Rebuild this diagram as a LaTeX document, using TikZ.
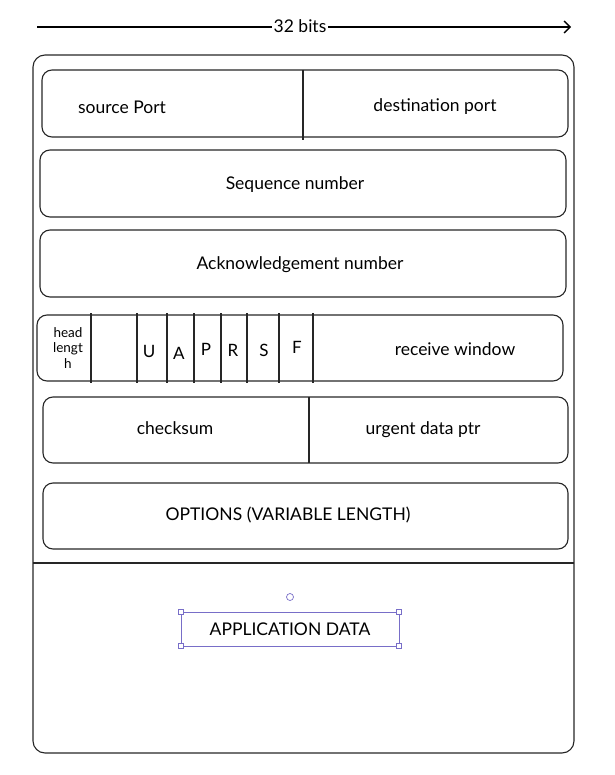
\documentclass[tikz,border=0pt]{standalone}
\usepackage{fontspec}
\setmainfont{Lato}
\usetikzlibrary{arrows.meta}
\tikzset{
  box/.style={draw=black!85,line width=1.1pt,rounded corners=10pt},
  sep/.style={draw=black!85,line width=1.4pt},
  lbl/.style={font=\fontsize{17.5}{20}\selectfont},
  flag/.style={font=\fontsize{17}{20}\selectfont},
  sel/.style={draw={rgb,255:red,120;green,110;blue,200},line width=0.7pt},
  hnd/.style={sel,fill=white,minimum size=5pt,inner sep=0pt}
}
\begin{document}
\begin{tikzpicture}[x=1pt,y=-1pt]
\useasboundingbox (0,0) rectangle (614,775);
% width arrow
\coordinate (al) at (37,27);
\coordinate (ar) at (571,27);
\draw[line width=1.3pt,-{Straight Barb[length=6pt]}] (al) -- (ar);
\node[fill=white,inner sep=2pt,lbl] (bits) at (300,26) {32 bits};
% outer
\draw[box,rounded corners=12pt] (33,55) rectangle (574,753);
\coordinate (ml) at (33,563);
\coordinate (mr) at (574,563);
\draw[sep] (ml) -- (mr);
% row 1
\draw[box] (42,70) rectangle (568,137);
\draw[sep] (303,70) -- (303,140);
\node[lbl] (sp) at (122,107) {source Port};
\node[lbl] (dp) at (435,107) {destination port};
% row 2
\draw[box] (40,150) rectangle (566,217);
\node[lbl] (seq) at (295,185) {Sequence number};
% row 3
\draw[box] (40,230) rectangle (566,297);
\node[lbl] (ack) at (300,265) {Acknowledgement number};
% row 4
\draw[box] (37,315) rectangle (563,381);
\foreach \x in {91,137,167,194,221,247,279,313}{\draw[sep] (\x,313) -- (\x,383);}
\node[align=center,font=\fontsize{13.5}{15.5}\selectfont] (hl) at (68,348) {head\\lengt\\h};
\node[flag] (u) at (149,351) {U};
\node[flag] (a) at (179,353) {A};
\node[flag] (p) at (206,349) {P};
\node[flag] (r) at (233,350) {R};
\node[flag] (s) at (264,350) {S};
\node[flag] (f) at (297,347) {F};
\node[lbl] (rw) at (455,349) {receive window};
% row 5
\draw[box] (43,397) rectangle (568,463);
\draw[sep] (309,397) -- (309,463);
\node[lbl] (cs) at (175,428) {checksum};
\node[lbl] (ud) at (423,430) {urgent data ptr};
% row 6
\draw[box] (43,483) rectangle (568,549);
\node[lbl] (op) at (288,515) {OPTIONS (VARIABLE LENGTH)};
% application data
\draw[sel] (181,612) rectangle (399,646);
\node[lbl] (app) at (290,629) {APPLICATION DATA};
\foreach \p in {(181,612),(399,612),(181,646),(399,646)}{\node[hnd,draw] at \p {};}
\draw[sel,fill=white] (290,597) circle (3.5pt);
\end{tikzpicture}
\end{document}
